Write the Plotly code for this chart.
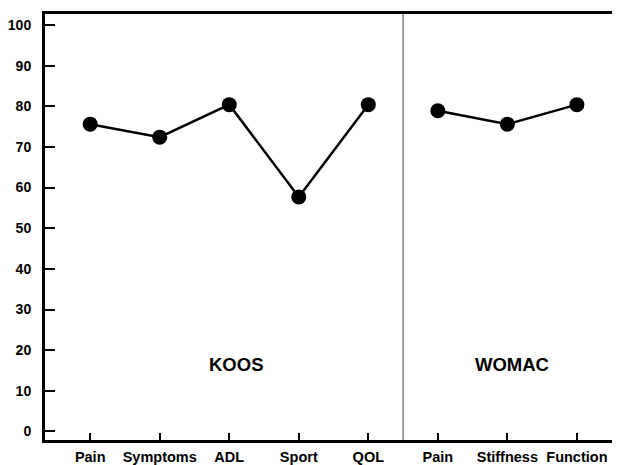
import plotly.graph_objects as go

categories = ["Pain", "Symptoms", "ADL", "Sport", "QOL", "Pain", "Stiffness", "Function"]
koos_values = [75.6, 72.4, 80.4, 57.7, 80.4]
womac_values = [78.9, 75.6, 80.4]
y_ticks = [0, 10, 20, 30, 40, 50, 60, 70, 80, 90, 100]
group_labels = ["KOOS", "WOMAC"]

koos_x = list(range(len(koos_values)))
womac_x = list(range(len(koos_values), len(koos_values) + len(womac_values)))

font = "Liberation Sans, Arial, sans-serif"
fig = go.Figure()
for xs, ys in [(koos_x, koos_values), (womac_x, womac_values)]:
    fig.add_trace(go.Scatter(
        x=xs, y=ys, mode="lines+markers",
        line=dict(color="black", width=2.5),
        marker=dict(color="black", size=15),
        showlegend=False, cliponaxis=False,
    ))

divider = len(koos_values) - 0.5
fig.add_shape(type="line", x0=divider, x1=divider, y0=0, y1=1, yref="paper",
              line=dict(color="#666666", width=1.2))

fig.add_annotation(x=2.1, y=16.5, text=f"<b>{group_labels[0]}</b>", showarrow=False,
                   font=dict(family=font, size=18.5, color="black"))
fig.add_annotation(x=6.06, y=16.5, text=f"<b>{group_labels[1]}</b>", showarrow=False,
                   font=dict(family=font, size=18.5, color="black"))

fig.update_layout(
    width=612, height=457,
    margin=dict(l=34, r=0, t=6, b=24),
    plot_bgcolor="white", paper_bgcolor="white",
    font=dict(family=font, size=14, color="black"),
    xaxis=dict(
        range=[-0.65, 7.62], tickvals=list(range(len(categories))),
        ticktext=[f"<b>{c}</b>" for c in categories],
        ticks="inside", ticklen=7, tickwidth=1.5, tickcolor="black",
        showline=True, linecolor="black", linewidth=3, mirror=True,
        showgrid=False, zeroline=False, tickfont=dict(size=14.5),
        ticklabelstandoff=2,
    ),
    yaxis=dict(
        range=[-2.1, 102.7], tickvals=y_ticks,
        ticktext=[f"<b>{v}</b>" for v in y_ticks],
        ticks="inside", ticklen=10, tickwidth=2, tickcolor="black",
        showline=True, linecolor="black", linewidth=3,
        showgrid=False, zeroline=False, ticklabelstandoff=8,
        tickfont=dict(size=14),
    ),
)

fig.write_html("out.html")
